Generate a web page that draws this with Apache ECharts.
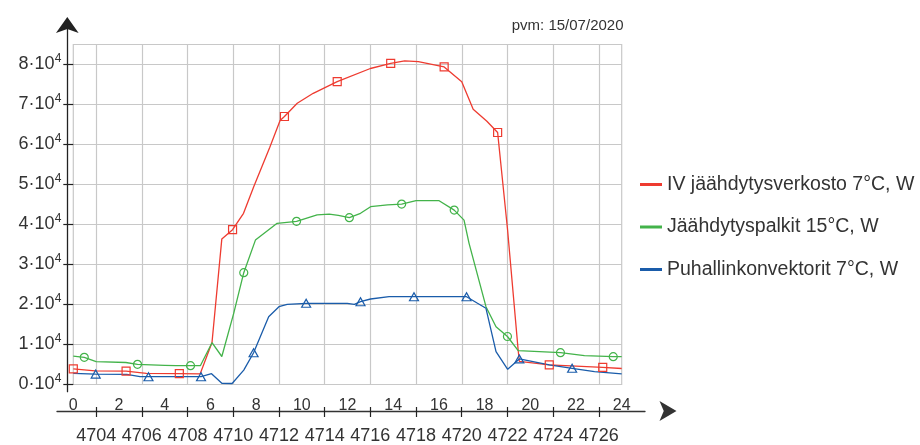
<!DOCTYPE html>
<html>
<head>
<meta charset="utf-8">
<script src="https://cdn.jsdelivr.net/npm/echarts@6/dist/echarts.min.js"></script>
<style>
  html, body { margin: 0; padding: 0; background: #fff; }
  #chart { width: 920px; height: 445px; }
</style>
</head>
<body>
<div id="chart"></div>
<script>
// Hour of the year at which the plotted day starts (hour 0 of 15/07/2020)
const dayStartHour = 4703;

// Tick labels
const dayHourLabels = [0, 2, 4, 6, 8, 10, 12, 14, 16, 18, 20, 22, 24];
const yearHourLabels = [4704, 4706, 4708, 4710, 4712, 4714, 4716, 4718, 4720, 4722, 4724, 4726];
const powerTicks = [0, 10000, 20000, 30000, 40000, 50000, 60000, 70000, 80000];

const seriesNames = [
  'IV jäähdytysverkosto 7°C, W',
  'Jäähdytyspalkit 15°C, W',
  'Puhallinkonvektorit 7°C, W'
];
const dateText = 'pvm: 15/07/2020';

// [hour of day, W]
const ivNetwork = [
  [0, 3900], [0.95, 3400], [2.31, 3350], [3.2, 2800], [4.64, 2700], [5.55, 2650],
  [6.07, 10500], [6.5, 36400], [6.97, 38700], [7.45, 42800], [7.9, 49500], [8.6, 59300],
  [9.05, 66000], [9.24, 67000], [9.8, 70300], [10.5, 72800], [11.55, 75700], [13.0, 79000],
  [13.89, 80300], [14.5, 80900], [15.1, 80700], [16.23, 79400], [17.0, 75700], [17.5, 68800],
  [18.1, 65800], [18.57, 63000], [19.0, 39000], [19.47, 8500], [19.52, 5800], [20.83, 4900],
  [23.17, 4300], [24, 4000]
];
const ivMarkHours = [0, 2.31, 4.64, 6.97, 9.24, 11.55, 13.89, 16.23, 18.57, 20.83, 23.17];

const chilledBeams = [
  [0, 7100], [0.48, 6800], [1.0, 5700], [2.3, 5500], [2.81, 5050], [4.0, 4800], [4.5, 4700],
  [5.13, 4700], [5.56, 4700], [6.07, 10450], [6.5, 7000], [7.02, 17800], [7.46, 27950],
  [7.97, 36100], [8.92, 40300], [9.77, 40800], [10.67, 42400], [11.2, 42600], [11.6, 42300],
  [12.08, 41700], [12.57, 42800], [13.01, 44450], [13.75, 44900], [14.37, 45100], [15.0, 45950],
  [16.01, 45950], [16.67, 43600], [17.1, 41100], [17.32, 35300], [18.06, 19450], [18.5, 14450],
  [19.0, 12000], [19.47, 8450], [21.32, 7950], [22.37, 7200], [23.63, 6950], [24, 6950]
];
const beamMarkHours = [0.48, 2.81, 5.13, 7.46, 9.77, 12.08, 14.37, 16.67, 19.0, 21.32, 23.63];

const fanCoils = [
  [0, 2800], [0.98, 2600], [2.34, 2550], [2.92, 1950], [3.29, 1950], [5.59, 1950], [6.05, 2700],
  [6.5, 300], [6.95, 250], [7.46, 3600], [7.89, 7950], [8.55, 16950], [9.0, 19450], [9.36, 20050],
  [10.19, 20300], [11.99, 20300], [12.3, 20050], [12.57, 20700], [13.01, 21375], [13.82, 21950],
  [14.91, 21950], [17.21, 21950], [17.69, 20300], [18.06, 19050], [18.5, 8200], [19.01, 3800],
  [19.52, 6400], [20.83, 4900], [21.83, 4050], [22.81, 3200], [24, 2650]
];
const fanMarkHours = [0.98, 3.29, 5.59, 7.89, 10.19, 12.57, 14.91, 17.21, 19.52, 21.83];

const colors = ['#ee3b30', '#43b34a', '#1a5caa'];
const fontFamily = '"Liberation Sans", Arial, sans-serif';
const textColor = '#333';

// plot box geometry
const plotLeft = 73.3, plotRight = 298.3, plotTop = 44.5, plotBottom = 60.5;
const pxPerHour = (920 - plotLeft - plotRight) / 24;
const hourAxisLeft = 57, hourAxisRight = 275;

function withMarks(points, markHours, symbol, size) {
  return points.map(p => ({
    value: p,
    symbol: markHours.indexOf(p[0]) >= 0 ? symbol : 'none',
    symbolSize: size
  }));
}

function lineSeries(name, points, markHours, symbol, size, color) {
  return {
    name: name,
    type: 'line',
    xAxisIndex: 0,
    yAxisIndex: 0,
    data: withMarks(points, markHours, symbol, size),
    showAllSymbol: true,
    clip: false,
    lineStyle: { color: color, width: 1.3 },
    itemStyle: { color: 'rgba(255,255,255,0)', borderColor: color, borderWidth: 1.2 },
    emphasis: { disabled: true }
  };
}

const hourAxisMin = dayStartHour - (plotLeft - hourAxisLeft) / pxPerHour;
const hourAxisMax = dayStartHour + 24 + (plotRight - hourAxisRight) / pxPerHour;

const chart = echarts.init(document.getElementById('chart'), null, { renderer: 'canvas' });

chart.setOption({
  animation: false,
  backgroundColor: '#fff',
  textStyle: { fontFamily: fontFamily },
  title: {
    text: dateText,
    right: 291.5,
    top: 13,
    textStyle: { fontSize: 15, fontWeight: 'normal', color: textColor, fontFamily: fontFamily }
  },
  legend: {
    orient: 'vertical',
    left: 635,
    top: 169.5,
    itemWidth: 22,
    itemHeight: 3,
    itemGap: 22.5,
    icon: 'rect',
    selectedMode: false,
    textStyle: { fontSize: 19.5, lineHeight: 20, color: textColor, fontFamily: fontFamily },
    data: seriesNames.map((n, i) => ({ name: n, itemStyle: { color: colors[i], borderWidth: 0 } }))
  },
  grid: [
    { left: plotLeft, right: plotRight, top: plotTop, bottom: plotBottom, show: true, borderColor: '#c8c8c8', borderWidth: 1.2 },
    { left: 67.3, width: 10, top: 25, bottom: 53.3 },
    { left: hourAxisLeft, right: hourAxisRight, top: plotTop, bottom: 28.3 }
  ],
  xAxis: [
    {
      gridIndex: 0, type: 'value', min: 0, max: 24, position: 'bottom',
      axisLine: { show: false },
      axisTick: { show: false, customValues: yearHourLabels.map(h => h - dayStartHour) },
      axisLabel: { customValues: dayHourLabels, margin: 13, fontSize: 16, color: textColor },
      splitLine: { show: true, lineStyle: { color: '#c8c8c8', width: 1.2 } }
    },
    {
      gridIndex: 2, type: 'value', min: hourAxisMin, max: hourAxisMax, position: 'bottom',
      axisLine: {
        show: true, onZero: false,
        lineStyle: { color: '#333', width: 1.3 },
        symbol: ['none', 'arrow'], symbolSize: [15, 17], symbolOffset: [0, 31.5]
      },
      axisTick: { show: true, customValues: yearHourLabels, length: 6, lineStyle: { color: '#222', width: 1.2 } },
      axisLabel: { customValues: yearHourLabels, margin: 16, fontSize: 18, color: textColor, formatter: v => String(v) },
      splitLine: { show: false }
    },
    {
      gridIndex: 2, type: 'value', min: hourAxisMin, max: hourAxisMax, position: 'bottom',
      axisLine: { show: false, onZero: false },
      axisTick: { show: true, inside: true, customValues: yearHourLabels, length: 4, lineStyle: { color: '#222', width: 1.2 } },
      axisLabel: { show: false },
      splitLine: { show: false }
    },
    { gridIndex: 1, type: 'value', show: false }
  ],
  yAxis: [
    {
      gridIndex: 0, type: 'value', min: 0, max: 85000,
      axisLine: { show: false },
      axisTick: { show: true, customValues: powerTicks, length: 10, lineStyle: { color: '#222', width: 1.2 } },
      axisLabel: {
        customValues: powerTicks,
        margin: 12,
        formatter: v => '{a|' + (v / 10000) + '·10}{b|4}',
        rich: {
          a: { fontSize: 18, lineHeight: 24, color: textColor, fontFamily: fontFamily },
          b: { fontSize: 12, lineHeight: 12, color: textColor, verticalAlign: 'top', fontFamily: fontFamily }
        }
      },
      splitLine: { show: true, lineStyle: { color: '#c8c8c8', width: 1.2 } }
    },
    {
      gridIndex: 1, type: 'value', min: 0, max: 1,
      axisLine: {
        show: true, onZero: false,
        lineStyle: { color: '#222', width: 1.3 },
        symbol: ['none', 'arrow'], symbolSize: [17, 16], symbolOffset: [0, 8]
      },
      axisTick: { show: false }, axisLabel: { show: false }, splitLine: { show: false }
    },
    { gridIndex: 2, type: 'value', show: false }
  ],
  series: [
    lineSeries(seriesNames[0], ivNetwork, ivMarkHours, 'rect', 8, colors[0]),
    lineSeries(seriesNames[1], chilledBeams, beamMarkHours, 'circle', 8, colors[1]),
    lineSeries(seriesNames[2], fanCoils, fanMarkHours, 'triangle', [9, 8], colors[2])
  ]
});
</script>
</body>
</html>
